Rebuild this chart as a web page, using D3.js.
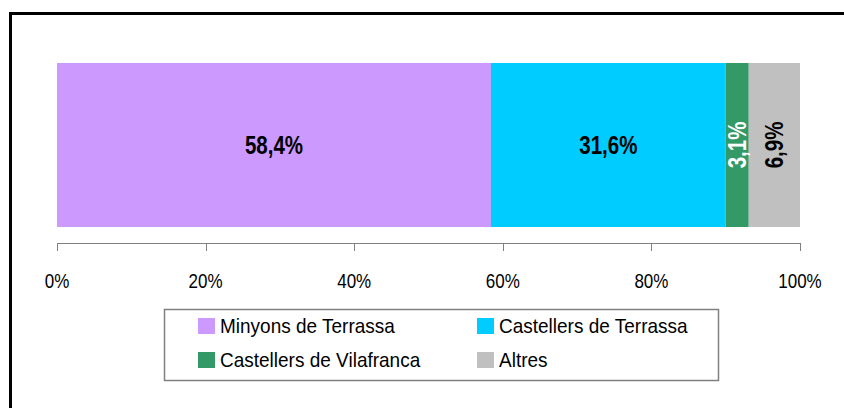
<!DOCTYPE html>
<html>
<head>
<meta charset="utf-8">
<script src="https://cdn.jsdelivr.net/npm/d3@7"></script>
<style>
  body { margin: 0; background: #fff; }
  svg { display: block; font-family: "Liberation Sans", Arial, sans-serif; }
</style>
</head>
<body>
<div class="canvas"></div>
<script>
const teams = ["Minyons de Terrassa", "Castellers de Terrassa", "Castellers de Vilafranca", "Altres"];
const shares = [58.4, 31.6, 3.1, 6.9];
const colors = ["#cc99ff", "#00ccff", "#339966", "#c0c0c0"];
const labelColors = ["#000", "#000", "#fff", "#000"];
const tickValues = [0, 20, 40, 60, 80, 100];

const svg = d3.select('.canvas')
  .append('svg')
  .attr('width', 844)
  .attr('height', 408);

// outer frame (only left and top edges visible)
svg.append('rect')
  .attr('x', 10.5).attr('y', 13.5)
  .attr('width', 900).attr('height', 500)
  .attr('fill', 'none')
  .attr('stroke', '#000')
  .attr('stroke-width', 3);

const x = d3.scaleLinear().domain([0, 100]).range([57, 800]);
const barTop = 63, barH = 164;

const ends = d3.cumsum(shares);
const segs = shares.map((v, i) => ({ v, i, x0: ends[i] - v, x1: ends[i] }));

svg.selectAll('rect.seg')
  .data(segs)
  .enter()
  .append('rect')
  .attr('class', 'seg')
  .attr('x', d => x(d.x0))
  .attr('y', barTop)
  .attr('width', d => x(d.x1) - x(d.x0))
  .attr('height', barH)
  .attr('fill', d => colors[d.i]);

// value labels, narrow bold; small slices rotated
svg.selectAll('text.val')
  .data(segs)
  .enter()
  .append('text')
  .attr('class', 'val')
  .attr('transform', d => {
    const cx = (x(d.x0) + x(d.x1)) / 2, cy = barTop + barH / 2;
    return d.v < 10
      ? `translate(${cx},${cy}) rotate(-90) scale(0.82,1)`
      : `translate(${cx},${cy}) scale(0.82,1)`;
  })
  .attr('text-anchor', 'middle')
  .attr('dy', '0.36em')
  .attr('font-size', 25)
  .attr('font-weight', 'bold')
  .attr('fill', d => labelColors[d.i])
  .text(d => d3.format('.1f')(d.v).replace('.', ',') + '%');

// axis
const axisY = 243;
svg.append('line')
  .attr('x1', x(0)).attr('x2', x(100))
  .attr('y1', axisY + 0.5).attr('y2', axisY + 0.5)
  .attr('stroke', '#808080');

svg.selectAll('line.tick')
  .data(tickValues)
  .enter()
  .append('line')
  .attr('class', 'tick')
  .attr('x1', d => Math.round(x(d)) + 0.5)
  .attr('x2', d => Math.round(x(d)) + 0.5)
  .attr('y1', axisY)
  .attr('y2', axisY + 8)
  .attr('stroke', '#808080');

svg.selectAll('text.tick')
  .data(tickValues)
  .enter()
  .append('text')
  .attr('class', 'tick')
  .attr('transform', d => `translate(${x(d)},288) scale(0.85,1)`)
  .attr('text-anchor', 'middle')
  .attr('font-size', 20)
  .attr('fill', '#000')
  .text(d => d + '%');

// legend
svg.append('rect')
  .attr('x', 164.5).attr('y', 309.5)
  .attr('width', 554).attr('height', 71)
  .attr('fill', 'none')
  .attr('stroke', '#808080')
  .attr('stroke-width', 1.5);

const legend = svg.selectAll('g.leg')
  .data(teams)
  .enter()
  .append('g')
  .attr('class', 'leg')
  .attr('transform', (d, i) => `translate(${i % 2 ? 477 : 198},${i < 2 ? 318 : 352})`);

legend.append('rect')
  .attr('width', 17)
  .attr('height', 16)
  .attr('fill', (d, i) => colors[i]);

legend.append('text')
  .attr('transform', 'translate(22,8) scale(0.95,1)')
  .attr('dy', '0.36em')
  .attr('font-size', 20)
  .attr('fill', '#000')
  .text(d => d);
</script>
</body>
</html>
